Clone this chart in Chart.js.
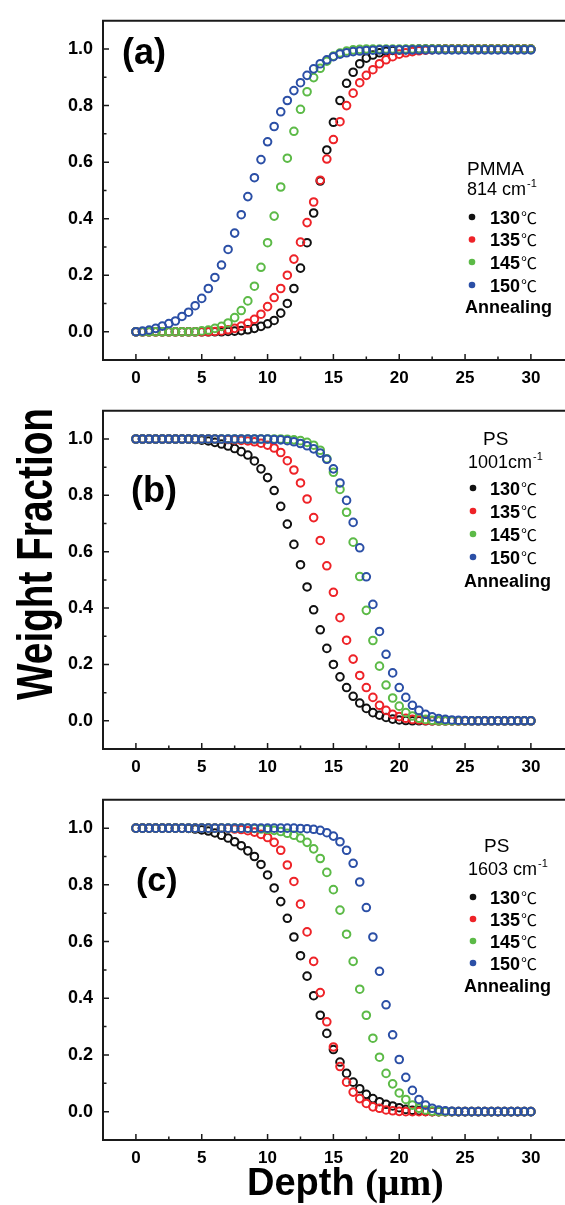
<!DOCTYPE html>
<html>
<head>
<meta charset="utf-8">
<script src="https://cdn.jsdelivr.net/npm/chart.js@4.4.1/dist/chart.umd.min.js"></script>
<style>
  html, body { margin: 0; padding: 0; background: #fff; width: 565px; height: 1205px; overflow: hidden; }
  canvas { position: absolute; left: 0; }
</style>
</head>
<body>
<canvas id="chartA" width="565" height="390" style="top:0px"></canvas>
<canvas id="chartB" width="565" height="389" style="top:390px"></canvas>
<canvas id="chartC" width="565" height="426" style="top:779px"></canvas>
<script>
// depth grid (µm)
const depth = [0,0.5,1,1.5,2,2.5,3,3.5,4,4.5,5,5.5,6,6.5,7,7.5,8,8.5,9,9.5,10,10.5,11,11.5,12,12.5,13,13.5,14,14.5,15,15.5,16,16.5,17,17.5,18,18.5,19,19.5,20,20.5,21,21.5,22,22.5,23,23.5,24,24.5,25,25.5,26,26.5,27,27.5,28,28.5,29,29.5,30];

const temps = ['130', '135', '145', '150'];
const colors = ['#111111', '#ee2328', '#5cba47', '#2b4fa6'];
const xTicks = [0, 5, 10, 15, 20, 25, 30];
const yTicks = [0, 0.2, 0.4, 0.6, 0.8, 1.0];

// (a) PMMA 814 cm-1
const a130 = [0,0,0,0,0,0,0,0,0,0,0,0,0,0,0.001,0.002,0.004,0.007,0.012,0.019,0.028,0.04,0.066,0.10,0.153,0.225,0.315,0.42,0.533,0.643,0.741,0.818,0.879,0.918,0.948,0.968,0.979,0.987,0.992,0.995,0.997,0.998,0.999,1,1,1,1,1,1,1,1,1,1,1,1,1,1,1,1,1,1];
const a135 = [0,0,0,0,0,0,0,0,0,0,0,0,0.001,0.003,0.007,0.012,0.02,0.03,0.044,0.062,0.089,0.121,0.153,0.2,0.257,0.317,0.386,0.459,0.536,0.611,0.68,0.743,0.8,0.844,0.881,0.907,0.927,0.948,0.962,0.973,0.982,0.987,0.991,0.994,0.996,0.998,0.999,1,1,1,1,1,1,1,1,1,1,1,1,1,1];
const a145 = [0,0,0,0,0,0,0,0,0,0,0.003,0.006,0.012,0.019,0.031,0.05,0.075,0.109,0.161,0.228,0.315,0.409,0.512,0.614,0.709,0.787,0.849,0.899,0.932,0.957,0.975,0.986,0.993,0.997,0.999,1,1,1,1,1,1,1,1,1,1,1,1,1,1,1,1,1,1,1,1,1,1,1,1,1,1];
const a150 = [0,0.002,0.006,0.012,0.02,0.029,0.038,0.054,0.069,0.092,0.118,0.153,0.192,0.236,0.291,0.349,0.414,0.478,0.545,0.609,0.672,0.726,0.778,0.818,0.853,0.881,0.907,0.93,0.948,0.962,0.973,0.982,0.987,0.991,0.993,0.995,0.996,0.997,0.997,0.997,0.997,0.997,0.997,0.997,0.997,0.997,0.997,0.997,0.997,0.997,0.997,0.997,0.997,0.997,0.997,0.997,0.997,0.997,0.997,0.997,0.997];

// (b) PS 1001 cm-1
const b130 = [1,1,1,1,1,1,1,1,1,0.998,0.996,0.993,0.988,0.982,0.975,0.966,0.955,0.943,0.922,0.894,0.863,0.817,0.761,0.698,0.626,0.554,0.475,0.394,0.323,0.257,0.2,0.156,0.118,0.087,0.063,0.044,0.029,0.02,0.012,0.006,0.003,0.001,0,0,0,0,0,0,0,0,0,0,0,0,0,0,0,0,0,0,0];
const b135 = [1,1,1,1,1,1,1,1,1,1,1,1,1,0.999,0.998,0.997,0.995,0.993,0.99,0.985,0.978,0.968,0.952,0.923,0.89,0.844,0.787,0.721,0.64,0.55,0.456,0.366,0.286,0.219,0.161,0.118,0.083,0.055,0.037,0.023,0.015,0.009,0.005,0.003,0.001,0,0,0,0,0,0,0,0,0,0,0,0,0,0,0,0];
const b145 = [1,1,1,1,1,1,1,1,1,1,1,1,1,1,1,1,1,1,1,1,1,1,1,0.999,0.997,0.994,0.988,0.978,0.96,0.93,0.882,0.821,0.74,0.634,0.512,0.392,0.285,0.194,0.127,0.081,0.052,0.029,0.017,0.009,0.005,0.002,0,0,0,0,0,0,0,0,0,0,0,0,0,0,0];
const b150 = [1,1,1,1,1,1,1,1,1,1,1,1,1,1,1,1,1,1,1,1,1,0.998,0.997,0.994,0.99,0.984,0.976,0.965,0.95,0.928,0.894,0.844,0.782,0.704,0.614,0.511,0.413,0.317,0.236,0.17,0.118,0.083,0.055,0.037,0.023,0.014,0.008,0.005,0.003,0.002,0.001,0,0,0,0,0,0,0,0,0,0];

// (c) PS 1603 cm-1
const c130 = [1,1,1,1,1,1,1,1,0.999,0.997,0.994,0.99,0.983,0.975,0.965,0.952,0.938,0.92,0.9,0.872,0.835,0.789,0.741,0.682,0.616,0.55,0.478,0.409,0.34,0.276,0.219,0.175,0.135,0.104,0.081,0.061,0.046,0.035,0.026,0.02,0.014,0.008,0.005,0.003,0.001,0,0,0,0,0,0,0,0,0,0,0,0,0,0,0,0];
const c135 = [1,1,1,1,1,1,1,1,1,1,1,1,1,1,0.999,0.997,0.995,0.991,0.986,0.978,0.967,0.95,0.922,0.87,0.812,0.732,0.634,0.53,0.42,0.317,0.228,0.159,0.104,0.069,0.046,0.029,0.017,0.012,0.006,0.003,0.001,0,0,0,0,0,0,0,0,0,0,0,0,0,0,0,0,0,0,0,0];
const c145 = [1,1,1,1,1,1,1,1,1,1,1,1,1,1,1,1,1,1,0.999,0.997,0.995,0.992,0.988,0.982,0.975,0.965,0.95,0.927,0.893,0.844,0.783,0.711,0.626,0.53,0.432,0.34,0.259,0.192,0.135,0.098,0.066,0.043,0.023,0.012,0.006,0.002,0,0,0,0,0,0,0,0,0,0,0,0,0,0,0];
const c150 = [1,1,1,1,1,1,1,1,1,1,1,1,1,1,1,1,1,1,1,1,1,1,1,1,1,0.999,0.998,0.996,0.992,0.984,0.972,0.952,0.922,0.876,0.81,0.72,0.616,0.495,0.377,0.271,0.184,0.121,0.075,0.043,0.023,0.012,0.006,0.003,0.001,0,0,0,0,0,0,0,0,0,0,0,0];

const SANS = '"Liberation Sans", Arial, sans-serif';

// frame (top, left, bottom; right side is cut off by the page), inward ticks, panel label, legend text
const framePlugin = {
  id: 'frame',
  afterDraw(chart, args, o) {
    const { ctx, chartArea: a, scales: { x, y } } = chart;
    ctx.save();
    ctx.strokeStyle = '#1a1a1a';
    ctx.lineWidth = 2;
    ctx.beginPath();
    ctx.moveTo(chart.width, a.top);
    ctx.lineTo(a.left, a.top);
    ctx.lineTo(a.left, a.bottom);
    ctx.lineTo(chart.width, a.bottom);
    ctx.stroke();

    ctx.lineWidth = 1.5;
    ctx.beginPath();
    for (let v = 0; v <= 30; v += 2.5) {
      const px = x.getPixelForValue(v);
      const len = v % 5 === 0 ? 6 : 3.5;
      ctx.moveTo(px, a.bottom);
      ctx.lineTo(px, a.bottom - len);
    }
    for (let k = 0; k <= 10; k++) {
      const py = y.getPixelForValue(k / 10);
      const len = k % 2 === 0 ? 6 : 3.5;
      ctx.moveTo(a.left, py);
      ctx.lineTo(a.left + len, py);
    }
    ctx.stroke();

    ctx.fillStyle = '#000';
    ctx.textAlign = 'left';
    ctx.textBaseline = 'alphabetic';

    ctx.font = 'bold ' + o.labelSize + 'px ' + SANS;
    ctx.fillText(o.label, o.labelX, o.labelY);

    ctx.font = '19px ' + SANS;
    ctx.fillText(o.title, o.titleX, o.titleY);
    ctx.font = '18px ' + SANS;
    ctx.fillText(o.band, o.bandX, o.bandY);
    const bw = ctx.measureText(o.band).width;
    ctx.font = '11px ' + SANS;
    ctx.fillText('-1', o.bandX + bw + 1, o.bandY - 8);

    temps.forEach((t, i) => {
      const ry = o.rowY[i];
      ctx.fillStyle = colors[i];
      ctx.beginPath();
      ctx.arc(o.dotX, ry, 3.3, 0, Math.PI * 2);
      ctx.fill();
      ctx.fillStyle = '#000';
      ctx.font = 'bold 18px ' + SANS;
      ctx.fillText(t, o.rowX, ry + 6.5);
      const tw = ctx.measureText(t).width;
      ctx.font = '16px "Noto Sans CJK SC", "DejaVu Sans", sans-serif';
      ctx.fillText('\u2103', o.rowX + tw + 1, ry + 6.5);
    });
    ctx.font = 'bold 18px ' + SANS;
    ctx.fillText('Annealing', o.annX, o.annY);

    if (o.yTitle) {
      ctx.save();
      ctx.translate(o.yTitle.x, o.yTitle.y);
      ctx.rotate(-Math.PI / 2);
      ctx.font = 'bold 50px ' + SANS;
      const w = ctx.measureText(o.yTitle.text).width;
      ctx.scale(o.yTitle.len / w, 1);
      ctx.fillText(o.yTitle.text, 0, 0);
      ctx.restore();
    }
    if (o.xTitle) {
      ctx.font = 'bold 38px ' + SANS;
      ctx.fillText('Depth ', o.xTitle.x, o.xTitle.y);
      const dw = ctx.measureText('Depth ').width;
      ctx.font = 'bold 38px "Liberation Serif", "Times New Roman", serif';
      ctx.fillText('(\u03bcm)', o.xTitle.x + dw, o.xTitle.y);
    }
    ctx.restore();
  }
};

function makeChart(id, series, padTop, xAxisHeight, frameOpts) {
  const datasets = series.map((s, i) => ({
    label: temps[i],
    data: depth.map((d, j) => ({ x: d, y: s[j] })),
    borderColor: colors[i],
    backgroundColor: 'rgba(0,0,0,0)',
    pointRadius: 3.8,
    pointBorderWidth: 2,
    pointHoverRadius: 3.8,
    showLine: false,
    order: 3 - i   // blue ends up on top, black underneath
  }));
  return new Chart(document.getElementById(id), {
    type: 'scatter',
    data: { datasets },
    options: {
      responsive: false,
      animation: false,
      layout: { padding: { top: padTop, right: 0, left: 0, bottom: 0 } },
      plugins: { legend: { display: false }, tooltip: { enabled: false }, frame: frameOpts },
      scales: {
        x: {
          type: 'linear', min: -2.5, max: 32.15,
          afterBuildTicks: s => { s.ticks = xTicks.map(v => ({ value: v })); },
          afterFit: s => { s.height = xAxisHeight; },
          grid: { display: false, drawTicks: false },
          border: { display: false },
          ticks: { color: '#000', padding: 8, autoSkip: false, maxRotation: 0,
                   font: { family: SANS, size: 17, weight: 'bold' },
                   callback: v => String(v) }
        },
        y: {
          type: 'linear', min: -0.1, max: 1.1,
          afterBuildTicks: s => { s.ticks = yTicks.map(v => ({ value: v })); },
          afterFit: s => { s.width = 103; },
          grid: { display: false, drawTicks: false },
          border: { display: false },
          ticks: { color: '#000', padding: 10,
                   font: { family: SANS, size: 18, weight: 'bold' },
                   callback: v => v.toFixed(1) }
        }
      }
    },
    plugins: [framePlugin]
  });
}

makeChart('chartA', [a130, a135, a145, a150], 13, 30, {
  label: '(a)', labelSize: 36, labelX: 122, labelY: 64,
  title: 'PMMA', titleX: 467, titleY: 175,
  band: '814 cm', bandX: 467, bandY: 195,
  dotX: 472, rowX: 490, rowY: [217, 239.5, 262, 285],
  annX: 465, annY: 313
});

makeChart('chartB', [b130, b135, b145, b150], 13, 30, {
  label: '(b)', labelSize: 36, labelX: 131, labelY: 112,
  title: 'PS', titleX: 483, titleY: 55,
  band: '1001cm', bandX: 468, bandY: 78,
  dotX: 473, rowX: 490, rowY: [98, 121, 144, 167],
  annX: 464, annY: 197,
  yTitle: { text: 'Weight Fraction', x: 52, y: 310, len: 292 }
});

makeChart('chartC', [c130, c135, c145, c150], 14, 65, {
  label: '(c)', labelSize: 34, labelX: 136, labelY: 112,
  title: 'PS', titleX: 484, titleY: 73,
  band: '1603 cm', bandX: 468, bandY: 96,
  dotX: 473, rowX: 490, rowY: [118, 140, 162, 184],
  annX: 464, annY: 213,
  xTitle: { x: 247, y: 416 }
});
</script>
</body>
</html>
